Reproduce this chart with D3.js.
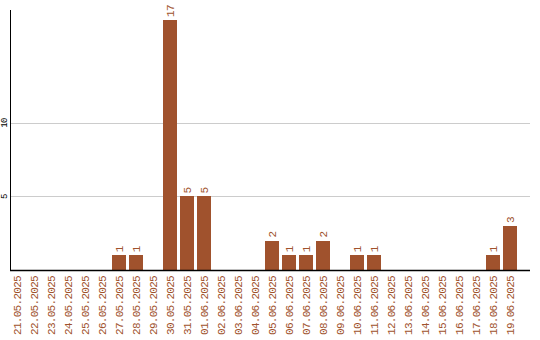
<!DOCTYPE html>
<html>
<head>
<meta charset="utf-8">
<script src="https://cdn.jsdelivr.net/npm/d3@7"></script>
<style>
  body { margin: 0; background: #fff; }
  text { font-family: "Liberation Mono", "Courier New", monospace; }
</style>
</head>
<body>
<script>
// Dates on the x axis
var dates = ["21.05.2025","22.05.2025","23.05.2025","24.05.2025","25.05.2025","26.05.2025",
             "27.05.2025","28.05.2025","29.05.2025","30.05.2025","31.05.2025","01.06.2025",
             "02.06.2025","03.06.2025","04.06.2025","05.06.2025","06.06.2025","07.06.2025",
             "08.06.2025","09.06.2025","10.06.2025","11.06.2025","12.06.2025","13.06.2025",
             "14.06.2025","15.06.2025","16.06.2025","17.06.2025","18.06.2025","19.06.2025"];
// Counts per day
var counts = [0,0,0,0,0,0, 1,1,0,17,5,5, 0,0,0,2,1,1, 2,0,1,1,0,0, 0,0,0,0,1,3];
// Y tick values
var yTicks = [5, 10];

var data = dates.map(function(d, i){ return {date: d, value: counts[i]}; });

var width = 540, height = 340;
var plotLeft = 10, plotRight = 530, plotTop = 10, plotBottom = 270;
var barColor = "#a0522d";

var svg = d3.select("body").append("svg").attr("width", width).attr("height", height);

var x = d3.scaleBand()
    .domain(dates)
    .range([plotLeft, plotRight])
    .paddingInner(0.18)
    .paddingOuter(0)
    .align(0)
    .round(true);

var y = d3.scaleLinear()
    .domain([0, d3.max(counts) * 1.04])
    .range([plotBottom, plotTop]);

// gridlines
svg.selectAll("line.grid").data(yTicks).enter().append("line")
    .attr("class", "grid")
    .attr("x1", plotLeft).attr("x2", plotRight)
    .attr("y1", function(d){ return Math.round(y(d)) + 0.5; })
    .attr("y2", function(d){ return Math.round(y(d)) + 0.5; })
    .attr("stroke", "#cccccc");

// y tick labels (rotated)
svg.selectAll("text.ytick").data(yTicks).enter().append("text")
    .attr("class", "ytick")
    .attr("transform", function(d){ return "translate(7," + y(d) + ") rotate(-90)"; })
    .attr("text-anchor", "middle")
    .attr("font-size", "9px")
    .attr("letter-spacing", "-0.5px")
    .attr("fill", "#000")
    .text(function(d){ return d; });

// bars
var nonZero = data.filter(function(d){ return d.value > 0; });
svg.selectAll("rect.bar").data(nonZero).enter().append("rect")
    .attr("class", "bar")
    .attr("x", function(d){ return x(d.date); })
    .attr("width", x.bandwidth())
    .attr("y", function(d){ return Math.round(y(d.value)); })
    .attr("height", function(d){ return plotBottom - Math.round(y(d.value)); })
    .attr("fill", barColor);

// value labels
svg.selectAll("text.val").data(nonZero).enter().append("text")
    .attr("class", "val")
    .attr("transform", function(d){
        return "translate(" + (x(d.date) + x.bandwidth() / 2 + 4) + "," + (y(d.value) - 3) + ") rotate(-90)";
    })
    .attr("text-anchor", "start")
    .attr("font-size", "11px")
    .attr("letter-spacing", "-0.7px")
    .attr("fill", barColor)
    .text(function(d){ return d.value; });

// date labels
svg.selectAll("text.date").data(dates).enter().append("text")
    .attr("class", "date")
    .attr("transform", function(d){
        return "translate(" + (x(d) + x.bandwidth() / 2 + 4) + "," + (plotBottom + 6) + ") rotate(-90)";
    })
    .attr("text-anchor", "end")
    .attr("font-size", "11px")
    .attr("letter-spacing", "-0.7px")
    .attr("fill", barColor)
    .text(function(d){ return d; });

// axis lines
svg.append("line").attr("x1", plotLeft + 0.5).attr("x2", plotLeft + 0.5).attr("y1", plotTop).attr("y2", plotBottom + 1)
    .attr("stroke", "#000");
svg.append("line").attr("x1", plotLeft).attr("x2", plotRight).attr("y1", plotBottom + 0.5).attr("y2", plotBottom + 0.5)
    .attr("stroke", "#000").attr("stroke-width", 1.5);
</script>
</body>
</html>
